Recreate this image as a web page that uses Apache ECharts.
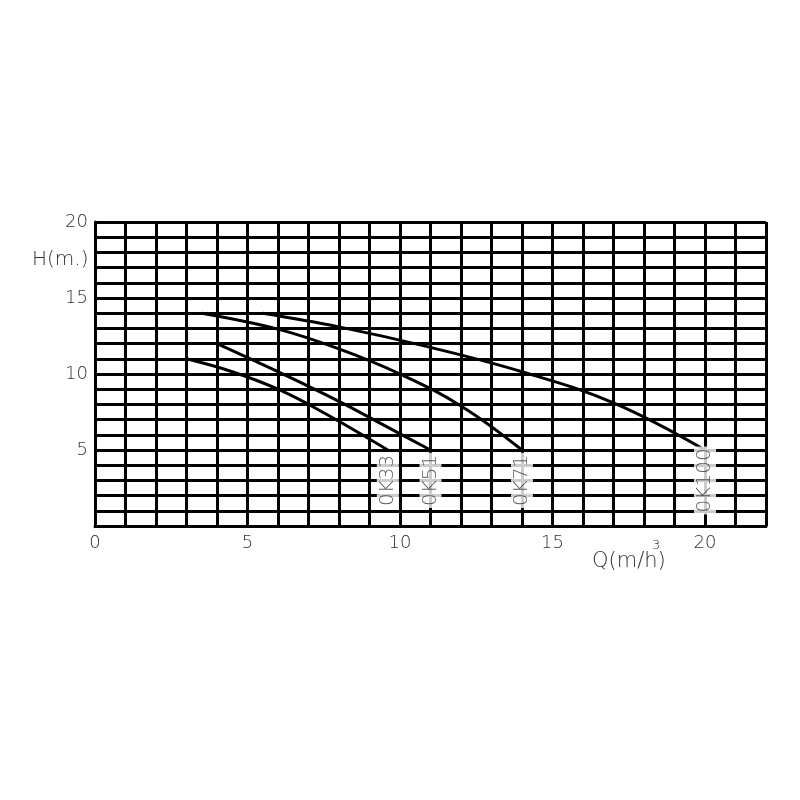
<!DOCTYPE html>
<html>
<head>
<meta charset="utf-8">
<script src="https://cdn.jsdelivr.net/npm/echarts@6/dist/echarts.min.js"></script>
<style>html,body{margin:0;padding:0;background:#fff;}#c{width:800px;height:800px;}</style>
</head>
<body>
<div id="c"></div>
<script>
// Pump curves: flow Q (m3/h) vs head H (m)
const q33  = [3, 4.5, 6, 7.5, 9.6];
const h33  = [11, 10.15, 9.0, 7.45, 5];
const q51  = [4, 6, 8, 9.5, 11];
const h51  = [12, 10.15, 8.2, 6.6, 5];
const q71  = [3.5, 6, 8, 10, 12, 14];
const h71  = [14, 12.95, 11.65, 10.0, 7.9, 5];
const q100 = [5.5, 8, 11, 14, 17, 20];
const h100 = [14, 13.1, 11.75, 10.15, 8.1, 5];
const curveNames = ['0K33', '0K51', '0K71', '0K100'];
const labelH = 3;
const xTickLabels = [0, 5, 10, 15, 20];
const yTickLabels = [5, 10, 15, 20];

const curves = [[q33, h33], [q51, h51], [q71, h71], [q100, h100]];
const zip = (a, b) => a.map((v, i) => [v, b[i]]);
const textColor = '#333333';
const font = 'DejaVu Sans';

const series = [];
curves.forEach((c, i) => {
  series.push({
    type: 'line', name: curveNames[i], data: zip(c[0], c[1]),
    smooth: 0.4, showSymbol: false, z: 5,
    lineStyle: { color: '#000', width: 3 }
  });
});
series.push({
  type: 'scatter', symbolSize: 0, z: 6,
  data: curves.map((c, i) => ({ value: [c[0][c[0].length - 1], labelH], name: curveNames[i] })),
  label: {
    show: true, position: 'inside', rotate: 90, formatter: p => p.name,
    color: textColor, fontFamily: font, fontWeight: 200, fontSize: 20,
    backgroundColor: '#fff', padding: [1, 2]
  }
});

const chart = echarts.init(document.getElementById('c'), null, { renderer: 'canvas' });
chart.setOption({
  animation: false,
  backgroundColor: '#fff',
  grid: { left: 95, top: 222, width: 671, height: 304, containLabel: false },
  xAxis: {
    type: 'value', min: 0, max: 22, interval: 1,
    axisLine: { show: true, lineStyle: { color: '#000', width: 3 } },
    axisTick: { show: false },
    splitLine: { show: true, lineStyle: { color: '#000', width: 3 } },
    axisLabel: {
      margin: 8, color: textColor, fontFamily: font, fontWeight: 200, fontSize: 18,
      formatter: v => xTickLabels.includes(v) ? String(v) : ''
    }
  },
  yAxis: {
    type: 'value', min: 0, max: 20, interval: 1,
    axisLine: { show: true, lineStyle: { color: '#000', width: 3 } },
    axisTick: { show: false },
    splitLine: { show: true, lineStyle: { color: '#000', width: 3 } },
    axisLabel: {
      margin: 7, color: textColor, fontFamily: font, fontWeight: 200, fontSize: 18,
      formatter: v => yTickLabels.includes(v) ? String(v) : ''
    }
  },
  graphic: [
    { type: 'text', left: 32, top: 250, style: { text: 'H(m.)', fill: textColor, font: '200 20px ' + font } },
    { type: 'text', left: 592, top: 551, style: { text: 'Q(m/h)', fill: textColor, font: '200 21px ' + font } },
    { type: 'text', left: 652, top: 539, style: { text: '3', fill: textColor, font: '200 13px ' + font } }
  ],
  series: series
});
</script>
</body>
</html>
